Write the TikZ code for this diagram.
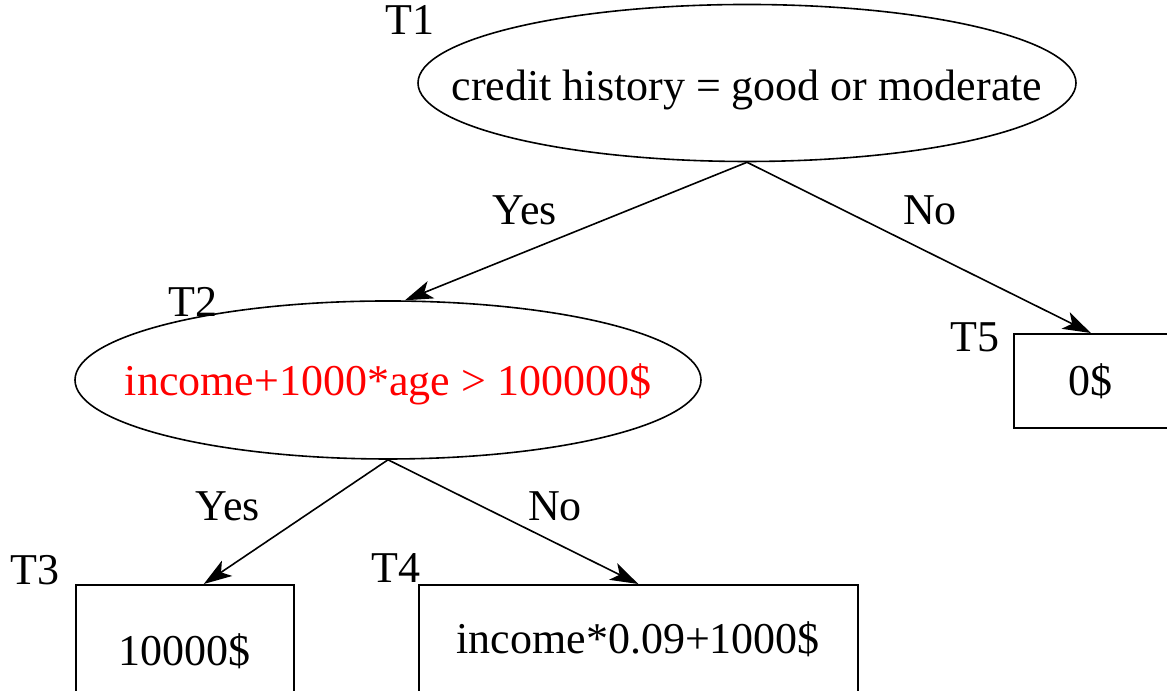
\documentclass[tikz,border=0pt]{standalone}
\usepackage{fontspec}
\setmainfont{Liberation Serif}
\usetikzlibrary{arrows.meta,shapes.geometric,positioning}

\begin{document}
\begin{tikzpicture}[x=0.25pt,y=-0.25pt,font=\fontsize{11}{13}\selectfont]
\tikzstyle{test}=[ellipse,draw,inner sep=0pt]
\tikzstyle{leaf}=[rectangle,draw,inner sep=0pt]
\tikzstyle{edge}=[-{Stealth[length=7pt,width=4.6pt,inset=1.8pt]},thin]
\useasboundingbox (0,0) rectangle (1167,691);
% tests
\node[test,minimum width=164.5pt,minimum height=39.25pt] (t1) at (747,83) {\makebox[0pt]{\raisebox{-4.3pt}[0pt][0pt]{credit history = good or moderate}}};
\node[test,minimum width=156.5pt,minimum height=39.5pt,text=red] (t2) at (388,380) {\makebox[0pt]{\raisebox{-4pt}[0pt][0pt]{income+1000*age > 100000\$}}};
% leaves
\node[leaf,anchor=north west,minimum width=54.5pt,minimum height=33pt] (t3) at (75,584) {10000\$};
\node[leaf,anchor=north west,minimum width=109.75pt,minimum height=27pt] (t4) at (418,584) {income*0.09+1000\$};
\node[leaf,anchor=north west,minimum width=38.5pt,minimum height=23.5pt] (t5) at (1013,333) {0\$};
% names
\node (n1) at (410,20) {T1};
\node (n2) at (193,302) {T2};
\node (n3) at (35,570) {T3};
\node (n4) at (396,568) {T4};
\node (n5) at (975,337) {T5};
% branches
\draw[edge] (t1.south) -- (t2.78);
\draw[edge] (t1.south) -- (t5.north);
\draw[edge] (t2.south) -- ([xshift=4.75pt]t3.north);
\draw[edge] (t2.south) -- (t4.north);
\node (y1) at (525,210) {Yes};
\node (o1) at (930,210) {No};
\node (y2) at (228,506) {Yes};
\node (o2) at (555,506) {No};
\end{tikzpicture}
\end{document}
